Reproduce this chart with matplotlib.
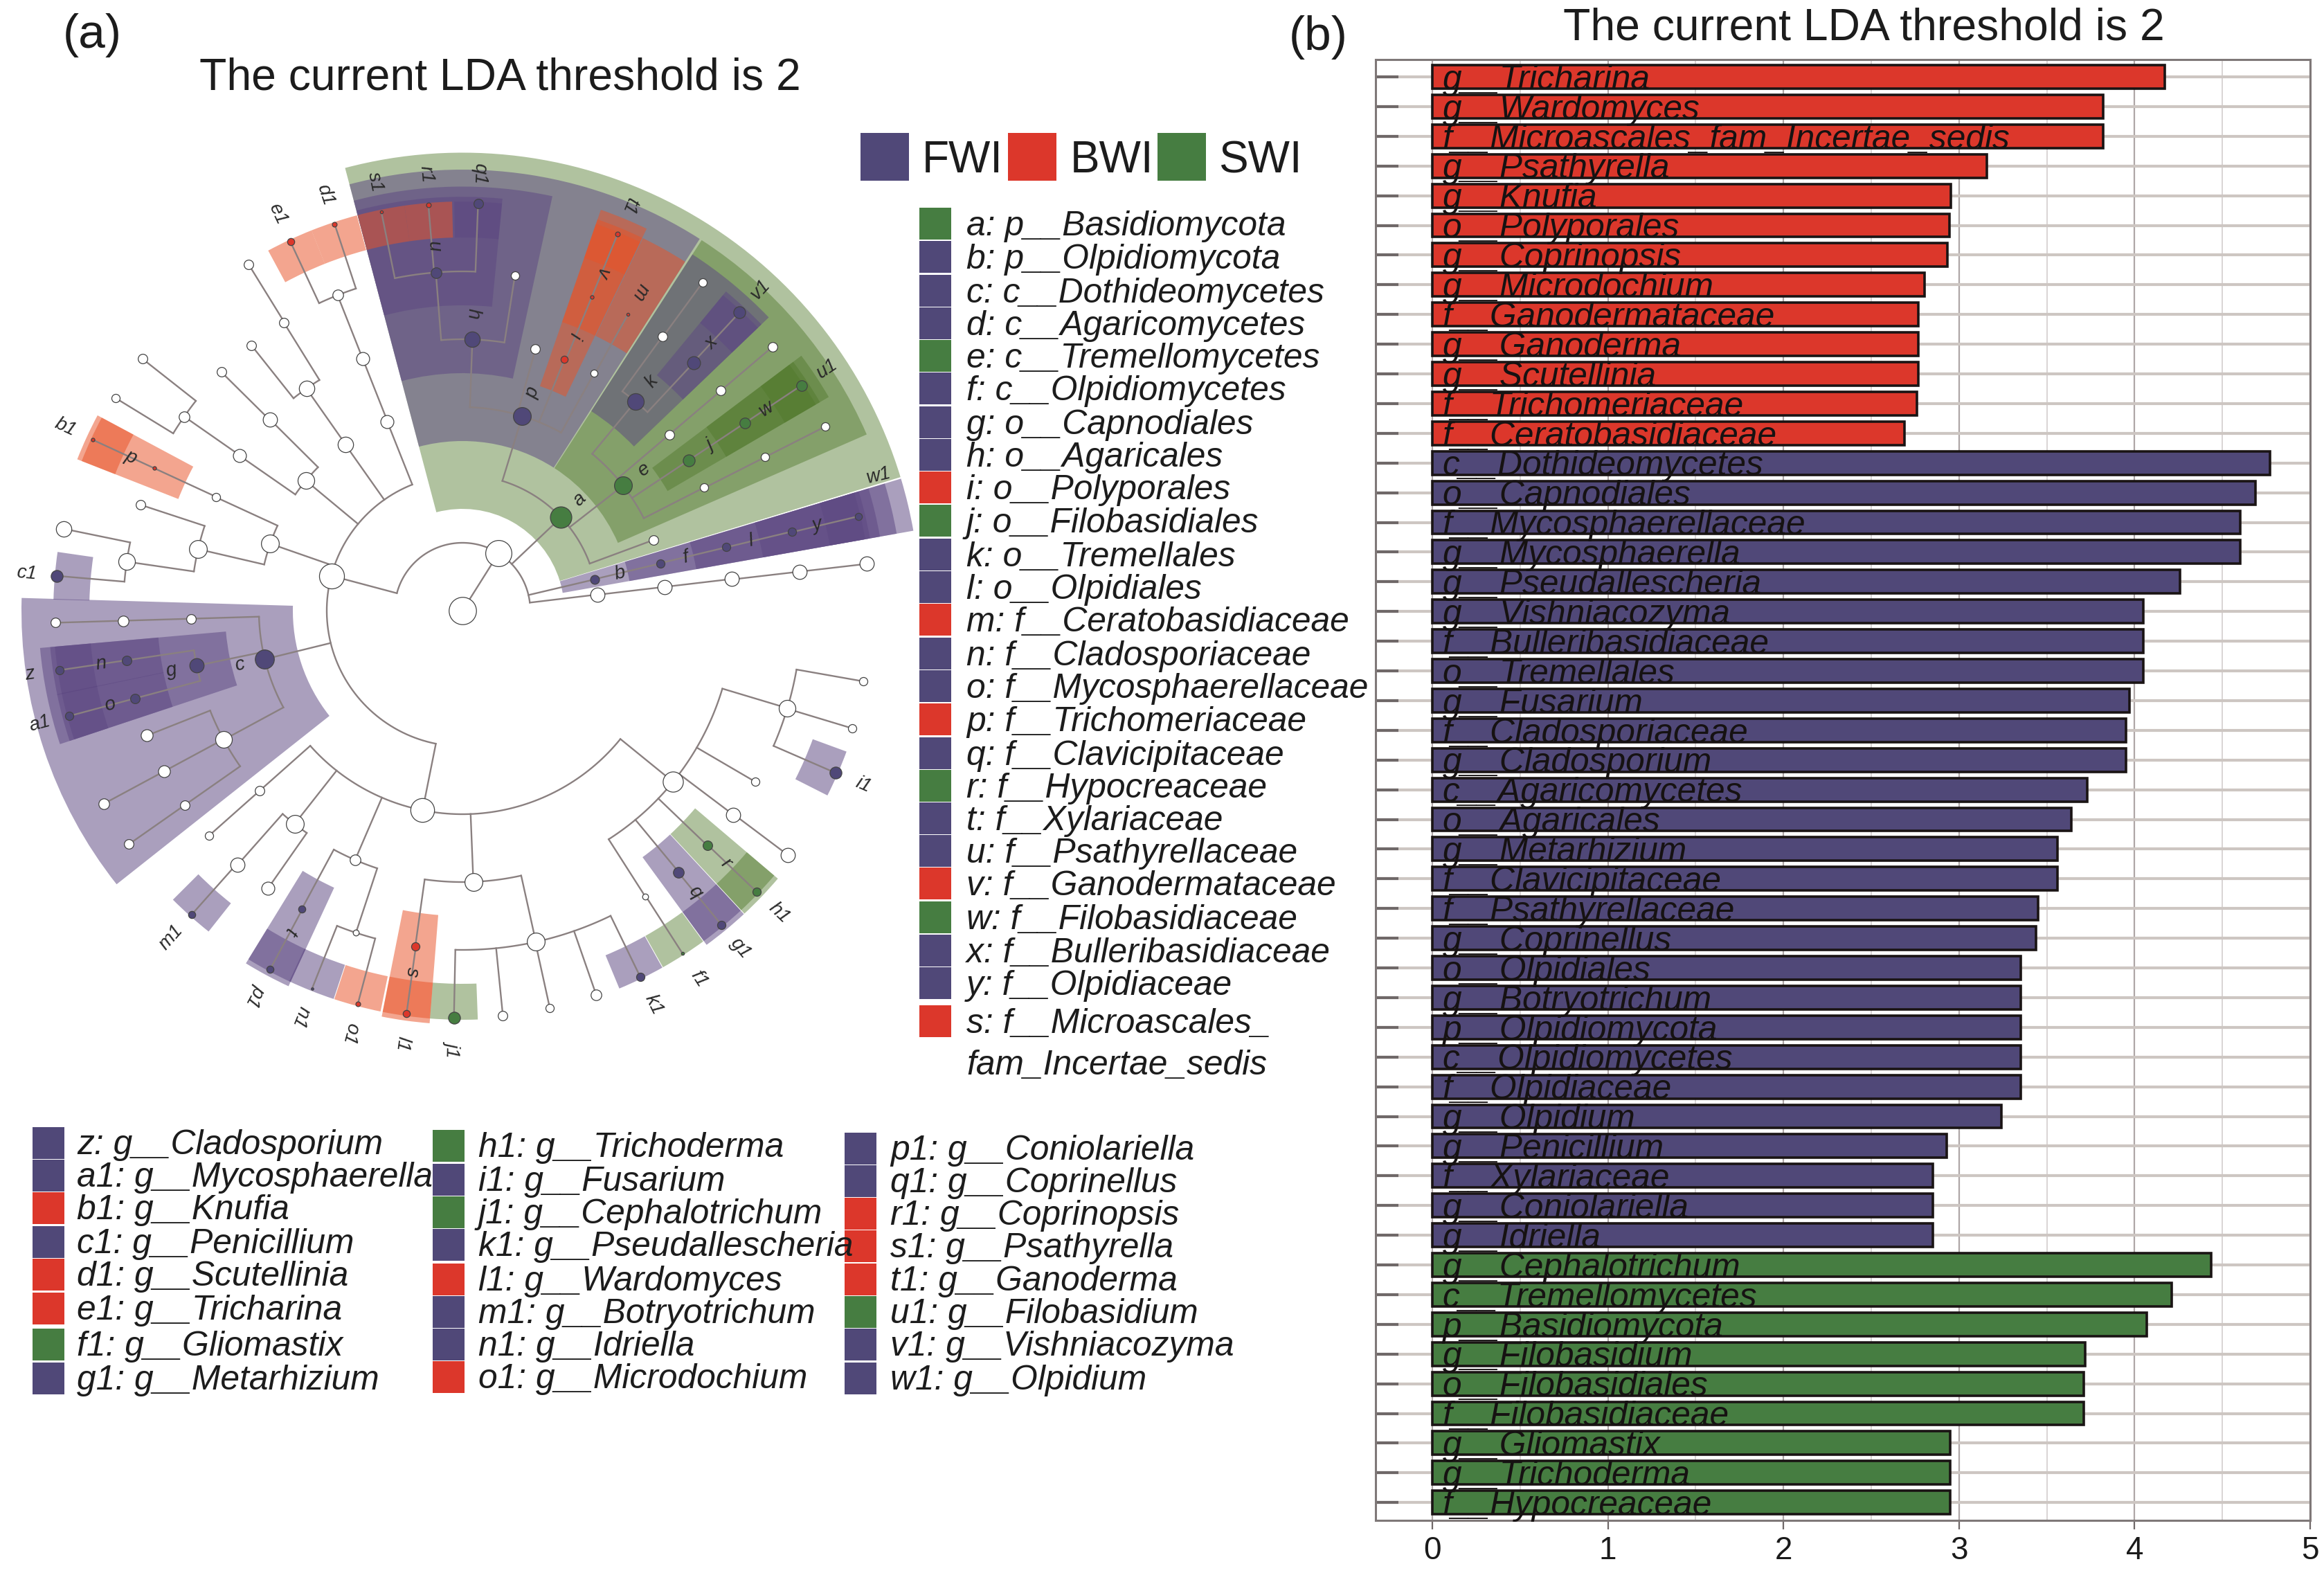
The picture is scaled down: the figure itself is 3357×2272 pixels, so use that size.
import numpy as np
import matplotlib
matplotlib.use("Agg")
import matplotlib.pyplot as plt
from matplotlib.patches import Rectangle

plt.rcParams['font.family'] = ['Liberation Sans', 'DejaVu Sans']

BLUE, RED, GREEN = '#504878', '#dc372b', '#467d41'
COL = {'B': BLUE, 'R': RED, 'G': GREEN}
WEDGE = {'B': ((93/255, 72/255, 130/255), 0.52),
         'R': ((232/255, 84/255, 40/255), 0.52),
         'G': ((80/255, 120/255, 42/255), 0.45)}

# ---------- bar chart data ----------
red_names = ['g__Tricharina', 'g__Wardomyces', 'f__Microascales_fam_Incertae_sedis', 'g__Psathyrella',
             'g__Knufia', 'o__Polyporales', 'g__Coprinopsis', 'g__Microdochium', 'f__Ganodermataceae',
             'g__Ganoderma', 'g__Scutellinia', 'f__Trichomeriaceae', 'f__Ceratobasidiaceae']
red_vals = [4.17, 3.82, 3.82, 3.16, 2.955, 2.945, 2.935, 2.805, 2.77, 2.77, 2.77, 2.76, 2.69]
blue_names = ['c__Dothideomycetes', 'o__Capnodiales', 'f__Mycosphaerellaceae', 'g__Mycosphaerella',
              'g__Pseudallescheria', 'g__Vishniacozyma', 'f__Bulleribasidiaceae', 'o__Tremellales',
              'g__Fusarium', 'f__Cladosporiaceae', 'g__Cladosporium', 'c__Agaricomycetes', 'o__Agaricales',
              'g__Metarhizium', 'f__Clavicipitaceae', 'f__Psathyrellaceae', 'g__Coprinellus', 'o__Olpidiales',
              'g__Botryotrichum', 'p__Olpidiomycota', 'c__Olpidiomycetes', 'f__Olpidiaceae', 'g__Olpidium',
              'g__Penicillium', 'f__Xylariaceae', 'g__Coniolariella', 'g__Idriella']
blue_vals = [4.77, 4.69, 4.6, 4.6, 4.26, 4.05, 4.05, 4.05, 3.97, 3.95, 3.95, 3.73, 3.64, 3.56, 3.56,
             3.45, 3.44, 3.35, 3.35, 3.35, 3.35, 3.35, 3.24, 2.93, 2.85, 2.85, 2.85]
green_names = ['g__Cephalotrichum', 'c__Tremellomycetes', 'p__Basidiomycota', 'g__Filobasidium',
               'o__Filobasidiales', 'f__Filobasidiaceae', 'g__Gliomastix', 'g__Trichoderma', 'f__Hypocreaceae']
green_vals = [4.435, 4.21, 4.07, 3.72, 3.71, 3.71, 2.95, 2.95, 2.95]

# ---------- cladogram data: id, parent, angle (deg), marker diameter, group ----------
node_table = """
root - 0 46 n
K root 57.8 44 n
A K 165.1 42 n
a K 43.4 36 G
b K 13.3 15 B
W1 K 6.8 24 n
c A 193.8 32 B
X1 A 258.7 40 n
A3 A 111.7 22 n
A4 A 125.2 26 n
A5 A 140.3 28 n
A6 A 160.8 30 n
d a 72.9 30 B
e a 37.9 30 G
W2 a 20.3 16 n
f b 13.4 14 B
W1b W1 6.7 24 n
g c 191.7 24 B
W3 c 181.7 16 n
W4 c 208.4 28 n
h d 87.9 26 B
W5 d 74.4 16 n
i d 67.9 12 R
W6 d 61.0 12 n
k e 50.4 28 B
W7 e 40.4 16 n
j e 33.6 20 G
W8 e 27.0 14 n
l f 13.5 14 B
W1c W1b 6.7 24 n
A3b A3 111.6 22 n
A4b A4 125.1 26 n
A5b A5 135.2 24 n
A5c A5 145.2 22 n
A6b A6 166.9 30 n
A6c A6 155.3 14 n
X2 X1 221.6 16 n
X3 X1 231.8 30 n
X4 X1 246.7 18 n
X5 X1 272.3 30 n
X6 X1 320.9 34 n
n g 188.4 16 B
o g 195.0 16 B
W3b W3 181.7 18 n
W4a W4 201.6 20 n
W4b W4 208.3 20 n
W4c W4 215.0 16 n
u h 94.5 18 B
W5b h 81.1 14 n
v i 67.6 6 R
m W6 60.8 5 R
x k 47.0 22 B
K2 k 53.9 16 n
W7b W7 40.4 16 n
w j 33.6 18 G
W8b W8 26.9 14 n
y l 13.5 14 B
W1d W1c 6.6 24 n
A3c A3b 111.6 18 n
A4c A4b 121.8 16 n
A4d A4b 128.5 16 n
A5d A5b 135.3 16 n
A5e A5c 145.1 18 n
p A6c 155.2 6 R
A6d A6b 161.8 16 n
A6e A6b 171.7 28 n
X2b X2 221.6 14 n
X3b X3 228.5 24 n
X3c X3 235.0 22 n
t X4 241.7 12 B
X4b X4 251.7 10 n
s X5 262.0 14 R
X5b X5 282.5 30 n
X6a X6 302.6 10 n
q X6 309.6 18 B
r X6 316.2 16 G
X6b X6 323.0 24 n
X6c X6 329.7 14 n
X6d X6 343.3 28 n
s1 u 101.5 5 R
r1 u 94.8 8 R
q1 u 87.8 16 B
t1 v 67.6 8 R
K3 K2 53.8 14 n
v1 x 47.1 20 B
W7c W7b 40.4 16 n
u1 w 33.6 18 G
W8c W8b 26.9 14 n
w1 y 13.4 12 B
W1e W1d 6.6 24 n
e1 A3c 115.0 12 R
d1 A3c 108.3 8 R
A4e A4c 121.7 16 n
A5f A5e 141.8 16 n
A5g A5e 148.5 14 n
b1 p 155.2 6 R
A6f A6e 168.4 26 n
c1 A6e 175.1 20 B
W3c W3b 181.7 16 n
z n 188.4 14 B
a1 o 195.0 14 B
W4d W4b 208.3 18 n
W4e W4c 215.0 16 n
m1 X3b 228.3 12 B
p1 t 241.8 12 B
n1 X4b 248.3 4 B
o1 X4b 255.1 8 R
l1 s 262.1 12 R
j1 X5b 268.8 20 G
X5c X5b 275.7 16 n
X5d X5b 282.4 14 n
X5e X5b 289.2 18 n
k1 X5b 295.9 14 B
f1 X6a 302.7 5 G
g1 q 309.5 14 B
h1 r 316.3 14 G
X6e X6b 323.1 24 n
X6f X6d 350.0 14 n
X6g X6d 343.2 14 n
i1 X6d 336.5 20 B
"""
rows = [r.split() for r in node_table.strip().splitlines()]
node_ids = [r[0] for r in rows]
node_parent = {r[0]: r[1] for r in rows}
node_angle = {r[0]: float(r[2]) for r in rows}
node_size = {r[0]: float(r[3]) for r in rows}
node_group = {r[0]: r[4] for r in rows}

legend_main = [('a: p__Basidiomycota', 'G'), ('b: p__Olpidiomycota', 'B'), ('c: c__Dothideomycetes', 'B'),
               ('d: c__Agaricomycetes', 'B'), ('e: c__Tremellomycetes', 'G'), ('f: c__Olpidiomycetes', 'B'),
               ('g: o__Capnodiales', 'B'), ('h: o__Agaricales', 'B'), ('i: o__Polyporales', 'R'),
               ('j: o__Filobasidiales', 'G'), ('k: o__Tremellales', 'B'), ('l: o__Olpidiales', 'B'),
               ('m: f__Ceratobasidiaceae', 'R'), ('n: f__Cladosporiaceae', 'B'), ('o: f__Mycosphaerellaceae', 'B'),
               ('p: f__Trichomeriaceae', 'R'), ('q: f__Clavicipitaceae', 'B'), ('r: f__Hypocreaceae', 'G'),
               ('t: f__Xylariaceae', 'B'), ('u: f__Psathyrellaceae', 'B'), ('v: f__Ganodermataceae', 'R'),
               ('w: f__Filobasidiaceae', 'G'), ('x: f__Bulleribasidiaceae', 'B'), ('y: f__Olpidiaceae', 'B'),
               ('s: f__Microascales_\nfam_Incertae_sedis', 'R')]
legend_c1 = [('z: g__Cladosporium', 'B'), ('a1: g__Mycosphaerella', 'B'), ('b1: g__Knufia', 'R'),
             ('c1: g__Penicillium', 'B'), ('d1: g__Scutellinia', 'R'), ('e1: g__Tricharina', 'R'),
             ('f1: g__Gliomastix', 'G'), ('g1: g__Metarhizium', 'B')]
legend_c2 = [('h1: g__Trichoderma', 'G'), ('i1: g__Fusarium', 'B'), ('j1: g__Cephalotrichum', 'G'),
             ('k1: g__Pseudallescheria', 'B'), ('l1: g__Wardomyces', 'R'), ('m1: g__Botryotrichum', 'B'),
             ('n1: g__Idriella', 'B'), ('o1: g__Microdochium', 'R')]
legend_c3 = [('p1: g__Coniolariella', 'B'), ('q1: g__Coprinellus', 'B'), ('r1: g__Coprinopsis', 'R'),
             ('s1: g__Psathyrella', 'R'), ('t1: g__Ganoderma', 'R'), ('u1: g__Filobasidium', 'G'),
             ('v1: g__Vishniacozyma', 'B'), ('w1: g__Olpidium', 'B')]
group_legend = [('FWI', 'B'), ('BWI', 'R'), ('SWI', 'G')]

W, H = 3357, 2272
fig = plt.figure(figsize=(W / 100, H / 100), dpi=100, facecolor='white')

# ---------- panel a: cladogram on polar axes ----------
CX, CY, LEVEL_PX, RMAX = 668, 882, 98, 7
half = RMAX * LEVEL_PX
pol = fig.add_axes([(CX - half) / W, 1 - (CY + half) / H, 2 * half / W, 2 * half / H], projection='polar')
pol.set_rlim(0, RMAX)
pol.set_axis_off()

level = {}
children = {k: [] for k in node_ids}
for nid in node_ids:
    par = node_parent[nid]
    level[nid] = 0 if par == '-' else level[par] + 1
    if par != '-':
        children[par].append(nid)

def leaf_angles(nid):
    if not children[nid]:
        return [node_angle[nid]]
    out = []
    for c in children[nid]:
        out += leaf_angles(c)
    return out

OUTER = {2: 6.75, 3: 6.5, 4: 6.25, 5: 6.1, 6: 6.03}
for nid in sorted(node_ids, key=lambda k: level[k]):
    gr = node_group[nid]
    if gr == 'n':
        continue
    la = leaf_angles(nid)
    lo, hi = min(la) - 3.35, max(la) + 3.35
    L = level[nid]
    wc, wa = WEDGE[gr]
    pol.bar(np.radians((lo + hi) / 2), OUTER[L] - (L - 0.5), width=np.radians(hi - lo), bottom=L - 0.5,
            color=wc, alpha=wa, linewidth=0, zorder=1 + L * 0.1)

LINE = '#8a8080'
for nid in node_ids:
    L = level[nid]
    if children[nid]:
        angs = [node_angle[c] for c in children[nid]]
        if L > 0:
            angs.append(node_angle[nid])
            th = np.radians(np.linspace(min(angs), max(angs), 80))
            pol.plot(th, np.full_like(th, L), color=LINE, lw=1.7, zorder=3, solid_capstyle='round')
    if L > 0:
        th = np.radians(node_angle[nid])
        pol.plot([th, th], [L - 1 if L > 1 else 0, L], color=LINE, lw=1.7, zorder=3)

for nid in node_ids:
    gr = node_group[nid]
    fc = 'white' if gr == 'n' else COL[gr]
    pt = node_size[nid] / 1.165 * 0.72
    pol.scatter(np.radians(node_angle[nid]), level[nid], s=pt ** 2, facecolor=fc, edgecolor='#444444',
                linewidth=0.9, zorder=5, clip_on=False)

label_angle_override = {'w1': 18.0}
for nid in node_ids:
    if node_group[nid] == 'n':
        continue
    a = node_angle[nid]
    L = level[nid]
    rot = a if (a < 55 or a > 238) else a - 180
    rl = L + (0.45 if L == 6 else 0.38)
    aa = label_angle_override.get(nid, a)
    pol.text(np.radians(aa), rl, nid, rotation=rot, rotation_mode='anchor', ha='center', va='center',
             fontsize=20, fontstyle='italic', color='#2a2a2a', zorder=6)

# ---------- panel b: LDA bars ----------
x0_px, x5_px = 2069, 3337
per = (x5_px - x0_px) / 5
left_px, top_px, bottom_px, step = 1987, 86, 2196, 42.9
y_first = 111
ax = fig.add_axes([left_px / W, 1 - bottom_px / H, (x5_px - left_px) / W, (bottom_px - top_px) / H])
ax.set_xlim((left_px - x0_px) / per, 5)
ax.set_ylim((bottom_px - y_first) / step, (top_px - y_first) / step)

names = red_names + blue_names + green_names
vals = red_vals + blue_vals + green_vals
cols = [RED] * len(red_vals) + [BLUE] * len(blue_vals) + [GREEN] * len(green_vals)
ypos = np.arange(len(vals))

ax.set_axisbelow(True)
ax.set_xticks(range(6))
ax.set_xticks(np.arange(0.5, 5, 1), minor=True)
ax.set_yticks(ypos)
ax.set_yticklabels([])
ax.grid(True, which='major', axis='x', color='#aea6a6', lw=1.6)
ax.grid(True, which='minor', axis='x', color='#d2cdcd', lw=1.2)
ax.grid(True, which='major', axis='y', color='#cdc6c2', lw=3.0)
ax.tick_params(axis='x', which='major', length=9, width=1.6, color='#6f6868', labelsize=33, pad=7, labelcolor='#1a1a1a')
ax.tick_params(axis='x', which='minor', length=0)
ax.tick_params(axis='y', which='major', direction='in', length=24, width=3, color='#6f6868')
for sp in ax.spines.values():
    sp.set_color('#7f7878')
    sp.set_linewidth(2.2)

ax.barh(ypos, vals, height=0.79, color=cols, edgecolor='#1a1414', linewidth=2.6, zorder=3)
for y, name in zip(ypos, names):
    ax.text(0.058, y + 0.11, name, fontsize=35.7, fontstyle='italic', color='#161212', va='center', ha='left',
            zorder=4, clip_on=False)

# ---------- overlay: titles and legends ----------
ov = fig.add_axes([0, 0, 1, 1], facecolor='none')
ov.set_xlim(0, W)
ov.set_ylim(H, 0)
ov.set_axis_off()

def T(x, y, s, size, **kw):
    kw.setdefault('va', 'center')
    kw.setdefault('color', '#1c1c1c')
    ov.text(x, y, s, fontsize=size, **kw)

LEG = 35.8
T(133, 51, '(a)', 50, ha='center')
T(1904, 54, '(b)', 50, ha='center')
T(722, 112, 'The current LDA threshold is 2', 46.3, ha='center')
T(2692, 41, 'The current LDA threshold is 2', 46.3, ha='center')

for (lab, g), xs, xt in zip(group_legend, [1243, 1456, 1672], [1332, 1546, 1760]):
    ov.add_patch(Rectangle((xs, 192), 70, 69, facecolor=COL[g], edgecolor='none'))
    T(xt, 232, lab, 46)

main_y = [323, 371, 420, 467, 514, 561, 610, 657, 704, 752, 801, 848, 895, 944, 991, 1039, 1088, 1135, 1182,
          1229, 1276, 1325, 1373, 1420, 1475]
for (lab, g), y in zip(legend_main, main_y):
    ov.add_patch(Rectangle((1328, y - 23), 46, 46, facecolor=COL[g], edgecolor='none'))
    if '\n' in lab:
        l1, l2 = lab.split('\n')
        T(1396, y + 4, l1, LEG, fontstyle='italic')
        T(1396, y + 64, l2, LEG, fontstyle='italic')
    else:
        T(1396, y + 4, lab, LEG, fontstyle='italic')

rows1 = [1651, 1698, 1745, 1794, 1841, 1890, 1942, 1991]
rows2 = [1655, 1704, 1751, 1798, 1848, 1895, 1942, 1989]
rows3 = [1659, 1706, 1753, 1800, 1848, 1895, 1942, 1991]
for col, rws, xs, xt in [(legend_c1, rows1, 47, 111), (legend_c2, rows2, 625, 691), (legend_c3, rows3, 1220, 1286)]:
    for (lab, g), y in zip(col, rws):
        ov.add_patch(Rectangle((xs, y - 23), 46, 46, facecolor=COL[g], edgecolor='none'))
        T(xt, y + 3, lab, LEG, fontstyle='italic')

fig.savefig('out.png', dpi=100)
